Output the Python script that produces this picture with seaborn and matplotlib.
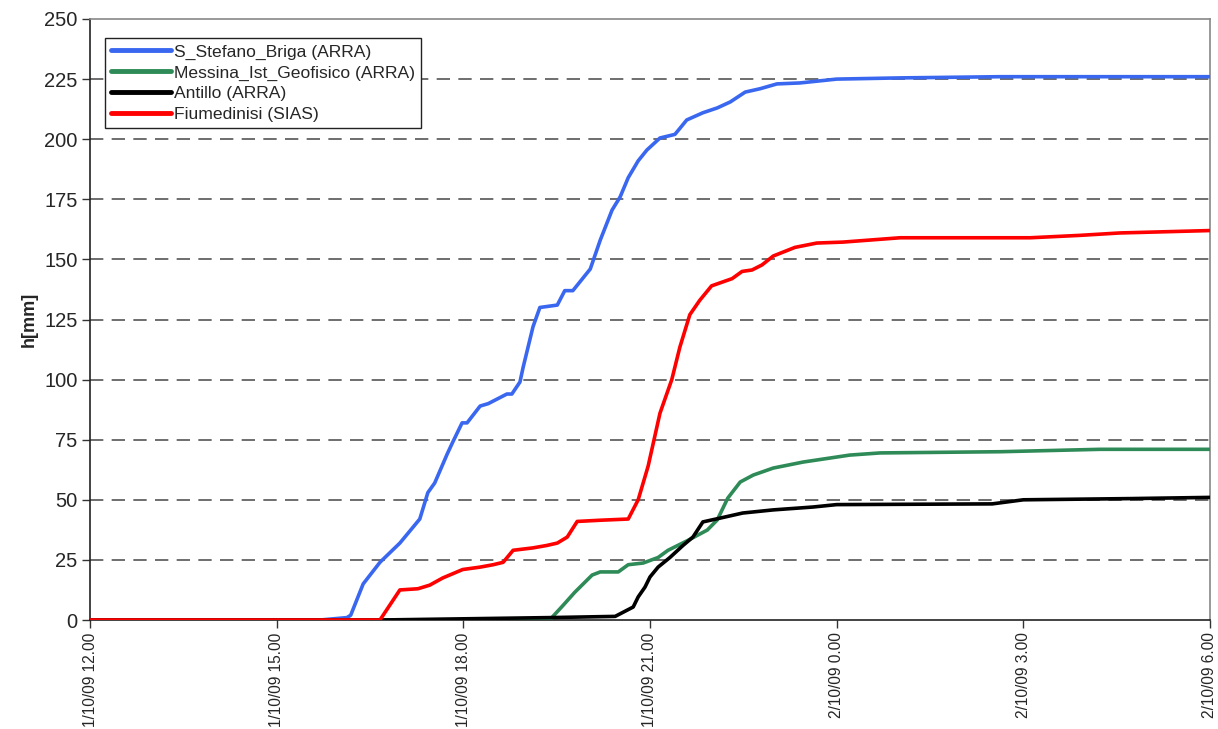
import matplotlib
matplotlib.use("Agg")
import matplotlib.pyplot as plt
import seaborn as sns
import pandas as pd

# hours since 1/10/09 12.00
stefano_t = [0, 3.70, 4.13, 4.19, 4.39, 4.66, 4.98, 5.30, 5.43, 5.54, 5.74, 5.83, 5.98, 6.06, 6.27, 6.40, 6.70, 6.78,
             6.91, 6.96, 7.12, 7.23, 7.51, 7.63, 7.76, 8.04, 8.20, 8.39, 8.52, 8.65, 8.81, 8.95, 9.16, 9.40, 9.48,
             9.59, 9.85, 10.08, 10.29, 10.53, 10.77, 11.04, 11.41, 12.0, 13.02, 14.63, 18.0]
stefano_v = [0, 0, 1, 2, 15, 24, 32, 42, 53, 57, 69, 74, 82, 82, 89, 90, 94, 94,
             99, 105, 122, 130, 131, 137, 137, 146, 158, 170.5, 176, 184, 191, 195.5, 200.5, 202, 204.5,
             208, 211, 213, 215.5, 219.6, 221, 223, 223.4, 225, 225.5, 226, 226]

messina_t = [0, 7.39, 7.44, 7.60, 7.79, 8.07, 8.20, 8.49, 8.65, 8.89, 9.13, 9.29, 9.60, 9.92, 10.08, 10.25,
             10.45, 10.66, 10.98, 11.46, 12.21, 12.70, 14.63, 16.23, 18.0]
messina_v = [0, 0, 1.5, 6, 11.5, 18.7, 20, 20, 23, 23.7, 26, 29, 33, 37.4, 41.6, 50.7,
             57.4, 60.3, 63.2, 65.7, 68.6, 69.5, 70, 71, 71]

antillo_t = [0, 4.66, 7.39, 8.44, 8.73, 8.81, 8.92, 9.00, 9.13, 9.32, 9.53, 9.69, 9.85, 10.13, 10.49, 10.98,
             11.62, 12.0, 14.5, 15.0, 16.71, 18.0]
antillo_v = [0, 0, 1, 1.5, 5.4, 9.6, 13.7, 17.9, 22, 26, 31, 34.5, 40.8, 42.4, 44.5, 45.8,
             47, 48, 48.3, 50, 50.5, 51]

fiume_t = [0, 4.66, 4.98, 5.27, 5.46, 5.67, 5.99, 6.27, 6.48, 6.64, 6.80, 7.12, 7.34, 7.51, 7.67, 7.83, 8.20,
           8.65, 8.81, 8.97, 9.16, 9.35, 9.48, 9.64, 9.80, 9.99, 10.32, 10.48, 10.64, 10.80, 10.98, 11.33,
           11.68, 12.10, 13.02, 15.11, 15.91, 16.55, 18.0]
fiume_v = [0, 0, 12.5, 13, 14.5, 17.5, 21, 22, 23, 24, 29, 30, 31, 32, 34.5, 41, 41.5,
           42, 50, 64, 86, 100, 113.5, 127, 133, 139, 142, 145, 145.6, 147.7, 151.4, 155,
           156.8, 157.2, 159, 159, 160, 161, 162]

series_names = ["S_Stefano_Briga (ARRA)", "Messina_Ist_Geofisico (ARRA)", "Antillo (ARRA)", "Fiumedinisi (SIAS)"]
series_colors = ["#3a67f0", "#2e8b57", "#000000", "#ff0000"]

tick_hours = [0, 3, 6, 9, 12, 15, 18]
tick_labels = ["1/10/09 12.00", "1/10/09 15.00", "1/10/09 18.00", "1/10/09 21.00",
               "2/10/09 0.00", "2/10/09 3.00", "2/10/09 6.00"]
y_ticks = [0, 25, 50, 75, 100, 125, 150, 175, 200, 225, 250]

frames = []
for name, t, v in zip(series_names,
                      [stefano_t, messina_t, antillo_t, fiume_t],
                      [stefano_v, messina_v, antillo_v, fiume_v]):
    frames.append(pd.DataFrame({"t": t, "h": v, "station": name}))
df = pd.concat(frames, ignore_index=True)

sns.set_theme(style="white")
plt.rcParams["font.family"] = ["Liberation Sans", "DejaVu Sans"]

fig = plt.figure(figsize=(12.18, 7.29), dpi=100)
ax = fig.add_axes([90 / 1218, 1 - 620 / 729, 1120 / 1218, 601 / 729])

for y in y_ticks[1:-1]:
    ax.axhline(y, color="#555555", lw=1.2, ls=(0, (8, 5)), zorder=1)

sns.lineplot(data=df, x="t", y="h", hue="station", palette=dict(zip(series_names, series_colors)),
             hue_order=series_names, lw=2.6, ax=ax, estimator=None, sort=False, zorder=3)

ax.set_xlim(0, 18)
ax.set_ylim(0, 250)
ax.set_xticks(tick_hours)
ax.set_xticklabels(tick_labels, rotation=90, fontsize=11.2)
ax.set_yticks(y_ticks)
ax.set_yticklabels([str(y) for y in y_ticks], fontsize=14.5)
ax.set_xlabel("")
ax.set_ylabel("h[mm]", fontsize=13, fontweight="bold")
ax.yaxis.set_label_coords(-0.047, 0.5)

ax.tick_params(axis="both", which="major", direction="out", length=6, width=1, color="#333333",
               left=True, bottom=True, pad=3)
for side in ["left", "bottom"]:
    ax.spines[side].set_color("#222222")
    ax.spines[side].set_linewidth(1.2)
for side in ["top", "right"]:
    ax.spines[side].set_color("#888888")
    ax.spines[side].set_linewidth(1.2)

leg = ax.legend(loc="upper left", bbox_to_anchor=(15 / 1120, 1 - 19 / 601), fontsize=12.6,
                frameon=True, fancybox=False, framealpha=1, edgecolor="#222222",
                handlelength=3.4, handletextpad=0.2, borderpad=0.35, labelspacing=0.32, borderaxespad=0)
leg.get_frame().set_linewidth(1.0)
for line in leg.get_lines():
    line.set_linewidth(3.5)

fig.savefig("out.png", dpi=100)
